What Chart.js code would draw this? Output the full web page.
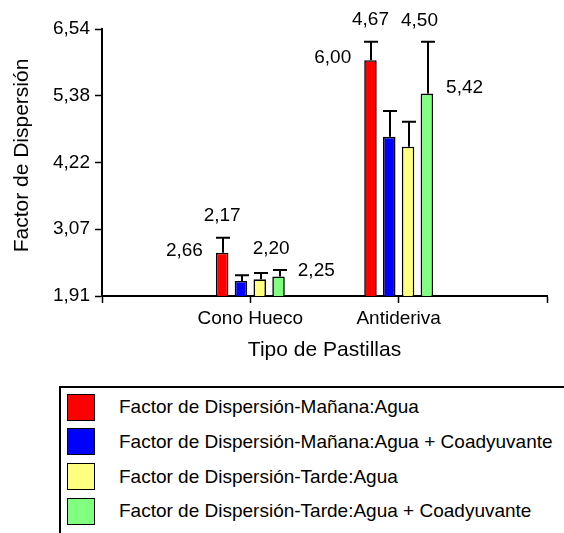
<!DOCTYPE html>
<html>
<head>
<meta charset="utf-8">
<script src="https://cdn.jsdelivr.net/npm/chart.js@4.4.1/dist/chart.umd.min.js"></script>
<style>
  body { margin: 0; background: #fff; font-family: 'Liberation Sans', Arial, sans-serif; }
  #wrap { position: relative; width: 564px; height: 533px; overflow: hidden; }
  #chartBox { position: absolute; left: 0; top: 0; width: 564px; height: 380px; }
  #legend { position: absolute; left: 59px; top: 386px; width: 540px; height: 170px;
            border-top: 2px solid #000; border-left: 2px solid #000; }
  .item { position: absolute; left: 6px; height: 28px; display: flex; align-items: center; }
  .sw { width: 26px; height: 25px; border: 1.5px solid #000; }
  .txt { margin-left: 24px; font-size: 19px; color: #000; white-space: nowrap; }
</style>
</head>
<body>
<div id="wrap">
  <div id="chartBox"><canvas id="chart"></canvas></div>
  <div id="legend"></div>
</div>
<script>
// Datos
const categories = ['Cono Hueco', 'Antideriva'];
const seriesNames = [
    'Factor de Dispersión-Mañana:Agua',
    'Factor de Dispersión-Mañana:Agua + Coadyuvante',
    'Factor de Dispersión-Tarde:Agua',
    'Factor de Dispersión-Tarde:Agua + Coadyuvante'
];
const mananaAgua = [2.66, 6.00];
const mananaCoad = [2.17, 4.67];
const tardeAgua = [2.20, 4.50];
const tardeCoad = [2.25, 5.42];
// errores (solo hacia arriba)
const errMananaAgua = [0.26, 0.32];
const errMananaCoad = [0.10, 0.45];
const errTardeAgua = [0.11, 0.43];
const errTardeCoad = [0.11, 0.90];
const yTicks = [1.91, 3.07, 4.22, 5.38, 6.54];
const yTitle = 'Factor de Dispersión';

const colors = ['#ff0000', '#0000ff', '#ffff80', '#80ff80'];
const seriesData = [mananaAgua, mananaCoad, tardeAgua, tardeCoad];
const seriesErr = [errMananaAgua, errMananaCoad, errTardeAgua, errTardeCoad];

// el eje tiene una posicion vacia a cada lado
const axisLabels = [''].concat(categories, ['']);
const pad = arr => [null].concat(arr, [null]);
const fmt = v => v.toFixed(2).replace('.', ',');
const FONT = "'Liberation Sans', Arial, sans-serif";

const errorBars = {
    id: 'errorBars',
    afterDatasetsDraw(chart) {
        const ctx = chart.ctx;
        const y = chart.scales.y;
        ctx.save();
        ctx.strokeStyle = '#000';
        ctx.lineWidth = 2;
        seriesData.forEach((data, i) => {
            const meta = chart.getDatasetMeta(i);
            data.forEach((v, j) => {
                const bar = meta.data[j + 1];
                const top = y.getPixelForValue(v + seriesErr[i][j]);
                const x = Math.round(bar.x) + 1;
                ctx.beginPath();
                ctx.moveTo(x, bar.y);
                ctx.lineTo(x, top);
                ctx.moveTo(x - 7, top);
                ctx.lineTo(x + 7, top);
                ctx.stroke();
            });
        });
        ctx.restore();
    }
};

const valueLabels = {
    id: 'valueLabels',
    afterDatasetsDraw(chart) {
        const ctx = chart.ctx;
        const y = chart.scales.y;
        ctx.save();
        ctx.font = '19px ' + FONT;
        ctx.fillStyle = '#000';
        ctx.textBaseline = 'middle';
        categories.forEach((c, j) => {
            const bars = seriesData.map((d, i) => chart.getDatasetMeta(i).data[j + 1]);
            const caps = seriesData.map((d, i) => y.getPixelForValue(d[j] + seriesErr[i][j]));
            const txt = i => fmt(seriesData[i][j]);
            ctx.textAlign = 'right';
            ctx.fillText(txt(0), bars[0].x - bars[0].width / 2 - 13, bars[0].y - 2);
            ctx.textAlign = 'center';
            ctx.fillText(txt(1), bars[0].x, caps[0] - 22);
            ctx.fillText(txt(2), (bars[2].x + bars[3].x) / 2 + 2, Math.min(caps[2], caps[3]) - 21);
            ctx.textAlign = 'left';
            ctx.fillText(txt(3), bars[3].x + bars[3].width / 2 + 13, bars[3].y - 6);
        });
        ctx.restore();
    }
};

// titulo del eje Y, un poco por encima del centro como en el original
const yAxisTitle = {
    id: 'yAxisTitle',
    afterDraw(chart) {
        const ctx = chart.ctx;
        const area = chart.chartArea;
        ctx.save();
        ctx.font = '21px ' + FONT;
        ctx.fillStyle = '#000';
        ctx.textAlign = 'center';
        ctx.textBaseline = 'middle';
        ctx.translate(22, (area.top + area.bottom) / 2 - 7);
        ctx.rotate(-Math.PI / 2);
        ctx.fillText(yTitle, 0, 0);
        ctx.restore();
    }
};

new Chart(document.getElementById('chart'), {
    type: 'bar',
    data: {
        labels: axisLabels,
        datasets: seriesNames.map((name, i) => ({
            label: name,
            data: pad(seriesData[i]),
            backgroundColor: colors[i],
            borderColor: '#000',
            borderWidth: 1.6,
            categoryPercentage: 0.507,
            barPercentage: 0.665
        }))
    },
    options: {
        responsive: true,
        maintainAspectRatio: false,
        animation: false,
        layout: { padding: { top: 29, right: 17, left: 0, bottom: 0 } },
        plugins: {
            legend: { display: false },
            tooltip: { enabled: false }
        },
        scales: {
            x: {
                offset: false,
                grid: { display: true, offset: false, drawOnChartArea: false, drawTicks: true,
                        tickLength: 7, tickColor: '#000', tickWidth: 1.5 },
                border: { display: true, color: '#000', width: 2 },
                ticks: { autoSkip: false, maxRotation: 0, color: '#000', padding: 4,
                         font: { family: FONT, size: 19 } },
                title: { display: true, text: 'Tipo de Pastillas', color: '#000',
                         font: { family: FONT, size: 21, lineHeight: 1 },
                         padding: { top: 0, bottom: 19.5 } },
                afterFit: s => { s.height = 84; }
            },
            y: {
                min: 1.91,
                max: 6.54,
                afterBuildTicks: s => { s.ticks = yTicks.map(v => ({ value: v })); },
                grid: { display: true, drawOnChartArea: false, drawTicks: true,
                        tickLength: 7, tickColor: '#000', tickWidth: 1.5 },
                border: { display: true, color: '#000', width: 2 },
                ticks: { color: '#000', padding: 5, callback: v => fmt(v),
                         font: { family: FONT, size: 19 } },
                afterFit: s => { s.width = 102; }
            }
        }
    },
    plugins: [errorBars, valueLabels, yAxisTitle]
});

// Leyenda
const legend = document.getElementById('legend');
seriesNames.forEach((name, i) => {
    const item = document.createElement('div');
    item.className = 'item';
    item.style.top = (5 + i * 34.8) + 'px';
    const sw = document.createElement('div');
    sw.className = 'sw';
    sw.style.background = colors[i];
    const t = document.createElement('span');
    t.className = 'txt';
    t.textContent = name;
    item.appendChild(sw);
    item.appendChild(t);
    legend.appendChild(item);
});
</script>
</body>
</html>
